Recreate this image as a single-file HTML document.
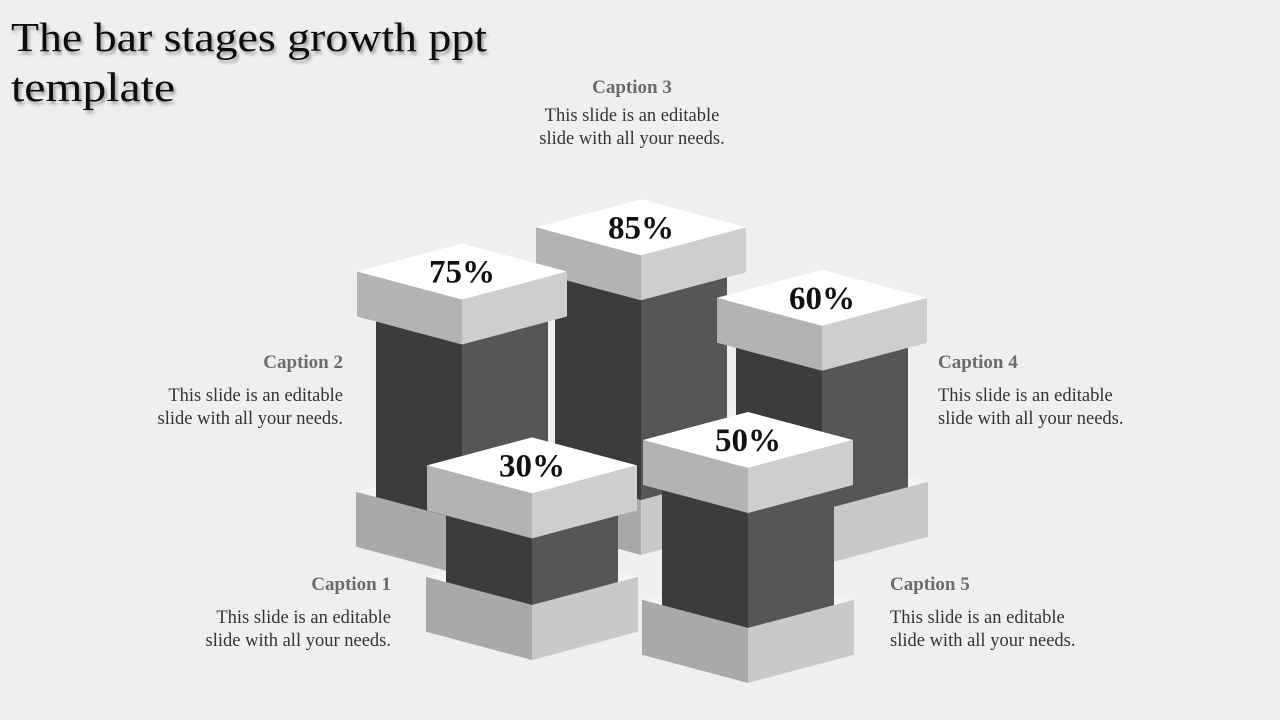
<!DOCTYPE html>
<html><head><meta charset="utf-8"><style>
html,body{margin:0;padding:0;background:#efefef;}
svg{display:block;font-family:"Liberation Serif",serif;}
</style></head><body>
<svg id="chart" width="1280" height="720" viewBox="0 0 1280 720" xmlns="http://www.w3.org/2000/svg">
<defs><filter id="sh" x="-5%" y="-5%" width="110%" height="130%"><feDropShadow dx="2" dy="3" stdDeviation="1.5" flood-color="#000" flood-opacity="0.35"/></filter></defs>
<rect width="1280" height="720" fill="#efefef"/>
<g filter="url(#sh)" font-size="41" fill="#0a0a0a">
<text x="11" y="51" textLength="476" lengthAdjust="spacingAndGlyphs">The bar stages growth ppt</text>
<text x="11" y="101" textLength="164" lengthAdjust="spacingAndGlyphs">template</text>
</g>
<g id="boxes"></g>
<g>
<g text-anchor="end"><text x="391" y="590" font-weight="bold" font-size="19" fill="#6b6b6b">Caption 1</text><text x="391" y="623" font-size="18.5" fill="#333">This slide is an editable</text><text x="391" y="646" font-size="18.5" fill="#333">slide with all your needs.</text></g>
<g text-anchor="end"><text x="343" y="368" font-weight="bold" font-size="19" fill="#6b6b6b">Caption 2</text><text x="343" y="401" font-size="18.5" fill="#333">This slide is an editable</text><text x="343" y="424" font-size="18.5" fill="#333">slide with all your needs.</text></g>
<g text-anchor="middle"><text x="632" y="93" font-weight="bold" font-size="19" fill="#6b6b6b">Caption 3</text><text x="632" y="121" font-size="18.5" fill="#333">This slide is an editable</text><text x="632" y="144" font-size="18.5" fill="#333">slide with all your needs.</text></g>
<g><text x="938" y="368" font-weight="bold" font-size="19" fill="#6b6b6b">Caption 4</text><text x="938" y="401" font-size="18.5" fill="#333">This slide is an editable</text><text x="938" y="424" font-size="18.5" fill="#333">slide with all your needs.</text></g>
<g><text x="890" y="590" font-weight="bold" font-size="19" fill="#6b6b6b">Caption 5</text><text x="890" y="623" font-size="18.5" fill="#333">This slide is an editable</text><text x="890" y="646" font-size="18.5" fill="#333">slide with all your needs.</text></g>
</g>
</svg>
<script>
// data (draw order: back to front)
const stageNames = ["stage-3", "stage-2", "stage-4", "stage-1", "stage-5"];
const stageValues = [85, 75, 60, 30, 50];
const stageLabels = ["85%", "75%", "60%", "30%", "50%"];

// layout slots (front corner x, ground front y)
const slotX = [641, 462, 822, 532, 748];
const slotBaseY = [500, 520, 510, 605, 628];

const NS = "http://www.w3.org/2000/svg";
const W = 105, DY = 28, CAP_H = 45, COL_W = 86, BASE_H = 55;
function hScale(v) { return 39 + 2.42 * v; }
function poly(g, pts, fill, name) {
  const p = document.createElementNS(NS, "polygon");
  p.setAttribute("points", pts.map(q => q.join(",")).join(" "));
  p.setAttribute("fill", fill);
  
  
  g.appendChild(p);
}
function prism(g, fx, fy, w, h, top, left, right, name) {
  poly(g, [[fx - w, fy - DY * w / W], [fx, fy], [fx, fy + h], [fx - w, fy - DY * w / W + h]], left, name + "-left");
  poly(g, [[fx, fy], [fx + w, fy - DY * w / W], [fx + w, fy - DY * w / W + h], [fx, fy + h]], right, name + "-right");
  if (top) poly(g, [[fx - w, fy - DY * w / W], [fx, fy - 2 * DY * w / W], [fx + w, fy - DY * w / W], [fx, fy]], top, name + "-top");
}
const root = document.getElementById("boxes");
stageValues.forEach((v, i) => {
  const g = document.createElementNS(NS, "g");
  
  
  root.appendChild(g);
  const fx = slotX[i], by = slotBaseY[i];
  const capY = by - hScale(v);
  prism(g, fx, by, W + 1, BASE_H, "#f4f4f4", "#a9a9a9", "#c9c9c9", "base");
  const colTop = capY + CAP_H - 10;
  prism(g, fx, colTop, COL_W, by - colTop, null, "#3c3c3c", "#565656", "column");
  prism(g, fx, capY, W, CAP_H, "#ffffff", "#b3b3b3", "#cecece", "cap");
  const t = document.createElementNS(NS, "text");
  t.setAttribute("x", fx);
  t.setAttribute("y", capY - 17);
  t.setAttribute("text-anchor", "middle");
  t.setAttribute("font-size", "33");
  t.setAttribute("font-weight", "bold");
  t.setAttribute("fill", "#111");
  
  
  t.textContent = stageLabels[i];
  g.appendChild(t);
});
</script>
</body></html>
